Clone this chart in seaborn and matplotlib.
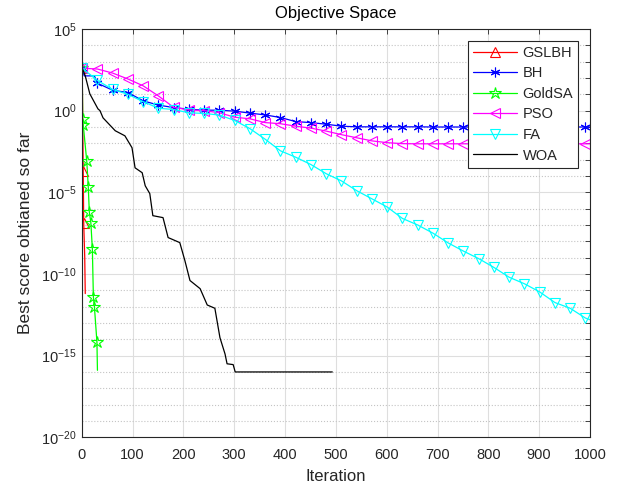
import numpy as np
import pandas as pd
import matplotlib
matplotlib.use("Agg")
import matplotlib.pyplot as plt
import seaborn as sns
from matplotlib.ticker import FixedLocator, NullFormatter, LogFormatterSciNotation

# ---------------- data (log10 of best score) ----------------
marker_iters = [1, 31, 61, 91, 121, 151, 181, 211, 241, 271, 301, 331, 361, 391, 421,
                451, 481, 511, 541, 571, 601, 631, 661, 691, 721, 751, 781, 811, 841,
                871, 901, 931, 961, 991]

gslbh_iter = [1, 3, 4, 6, 7]
gslbh_exp = [2.6, -3.7, -6.9, -9.0, -11.2]
gslbh_marks = [0, 1, 2]

bh_iter = [1, 5, 25] + marker_iters[1:] + [1000]
bh_exp = [2.6, 2.13, 2.13,
          1.68, 1.25, 1.11, 0.60, 0.34, 0.19, 0.09, 0.03, 0.03, -0.03, -0.15, -0.26,
          -0.42, -0.67, -0.73, -0.83, -0.95, -0.99, -0.99, -0.99, -0.99, -0.99, -1.0,
          -1.0, -1.0, -1.0, -1.0, -1.0, -1.0, -1.0, -1.0, -1.0, -1.0, -1.0]

goldsa_iter = [1, 2, 3, 10, 13, 15, 18, 21, 23, 25, 30, 31]
goldsa_exp = [2.6, -0.5, -0.85, -3.1, -4.7, -6.2, -6.85, -8.47, -11.4, -12.0, -14.17, -15.9]
goldsa_marks = list(range(11))

pso_iter = marker_iters + [1000]
pso_exp = [2.6, 2.55, 2.3, 1.94, 1.52, 0.9, 0.2, 0.05, 0.0, -0.13, -0.4, -0.5, -0.73,
           -0.8, -0.95, -1.07, -1.25, -1.47, -1.66, -1.85, -1.96, -2.02, -2.03, -2.03,
           -2.03, -2.03, -2.03, -2.03, -2.03, -2.03, -2.03, -2.03, -2.03, -2.03, -2.03]

fa_iter = marker_iters + [1000]
fa_exp = [2.6, 1.85, 1.3, 1.0, 0.55, 0.15, 0.07, -0.13, -0.17, -0.27, -0.6, -1.1,
          -1.75, -2.46, -2.85, -3.3, -3.86, -4.3, -4.9, -5.4, -5.9, -6.6, -7.0, -7.5,
          -8.1, -8.6, -9.06, -9.6, -10.2, -10.6, -11.1, -11.75, -12.1, -12.7, -12.8]

woa_iter = [1, 3, 7, 16, 32, 36, 42, 66, 85, 99, 105, 119, 125, 134, 140, 160, 170,
            193, 203, 213, 233, 247, 262, 272, 282, 286, 298, 302, 493]
woa_exp = [2.6, 2.45, 2.13, 1.03, 0.11, 0.0, -0.44, -1.23, -1.54, -2.27, -3.5, -3.8,
           -4.6, -5.08, -6.43, -6.55, -7.77, -8.08, -9.18, -10.4, -10.9, -11.9, -12.1,
           -13.9, -14.9, -15.5, -15.55, -16.0, -16.0]

names = ["GSLBH", "BH", "GoldSA", "PSO", "FA", "WOA"]
colors = ["#ff0000", "#0000ff", "#00ff00", "#ff00ff", "#00ffff", "#000000"]

# ---------------- style ----------------
sns.set_style("white")
plt.rcParams["font.family"] = ["Liberation Sans", "DejaVu Sans"]
plt.rcParams["mathtext.default"] = "regular"

fig = plt.figure(figsize=(6.25, 4.9), dpi=100)
ax = fig.add_axes([0.1307, 0.1076, 0.8133, 0.8332])

def marks_on_grid(iters):
    s = set(marker_iters)
    return [i for i, v in enumerate(iters) if v in s]

series = [
    (gslbh_iter, gslbh_exp, dict(marker="^", markersize=7, markevery=gslbh_marks)),
    (bh_iter, bh_exp, dict(marker=(6, 2, 0), markersize=7, markevery=marks_on_grid(bh_iter))),
    (goldsa_iter, goldsa_exp, dict(marker="*", markersize=9, markevery=goldsa_marks)),
    (pso_iter, pso_exp, dict(marker="<", markersize=7, markevery=marks_on_grid(pso_iter))),
    (fa_iter, fa_exp, dict(marker="v", markersize=7, markevery=marks_on_grid(fa_iter))),
    (woa_iter, woa_exp, dict()),
]

for (it, ex, mk), name, col in zip(series, names, colors):
    df = pd.DataFrame({"Iteration": it, "score": np.power(10.0, ex)})
    sns.lineplot(data=df, x="Iteration", y="score", ax=ax, color=col, label=name,
                 estimator=None, linewidth=0.9, markerfacecolor="none",
                 markeredgecolor=col, markeredgewidth=0.8, **mk)

ax.set_yscale("log")
ax.set_xlim(0, 1000)
ax.set_ylim(1e-20, 1e5)

ax.xaxis.set_major_locator(FixedLocator(np.arange(0, 1001, 100)))
ax.yaxis.set_major_locator(FixedLocator([10.0 ** e for e in range(-20, 6, 5)]))
ax.yaxis.set_major_formatter(LogFormatterSciNotation())
ax.yaxis.set_minor_locator(FixedLocator([10.0 ** e for e in range(-20, 6)]))
ax.yaxis.set_minor_formatter(NullFormatter())

ax.grid(True, which="major", color="#dedede", linestyle="-", linewidth=0.8)
ax.grid(True, which="minor", axis="y", color="#c4c4c4", linestyle=":", linewidth=0.8)
ax.set_axisbelow(True)

dark = "#262626"
for sp in ax.spines.values():
    sp.set_visible(True)
    sp.set_color(dark)
    sp.set_linewidth(0.8)
ax.tick_params(which="both", direction="in", top=True, right=True, length=3.6,
               width=0.6, color=dark, labelcolor=dark, labelsize=10.5)
ax.tick_params(axis="x", pad=8)
ax.tick_params(axis="y", pad=3.5)

ax.set_xlabel("Iteration", fontsize=12, color=dark, labelpad=5)
ax.set_ylabel("Best score obtianed so far", fontsize=12.5, color=dark, labelpad=6)
ax.set_title("Objective Space", fontsize=12, color="black", pad=8)

leg = ax.legend(loc="upper right", fontsize=10.5, frameon=True, fancybox=False,
                framealpha=1, edgecolor=dark, borderaxespad=0.8, handlelength=3.0,
                handletextpad=0.4, labelspacing=0.45, borderpad=0.35)
leg.get_frame().set_linewidth(0.8)

fig.savefig("out.png", dpi=100)
